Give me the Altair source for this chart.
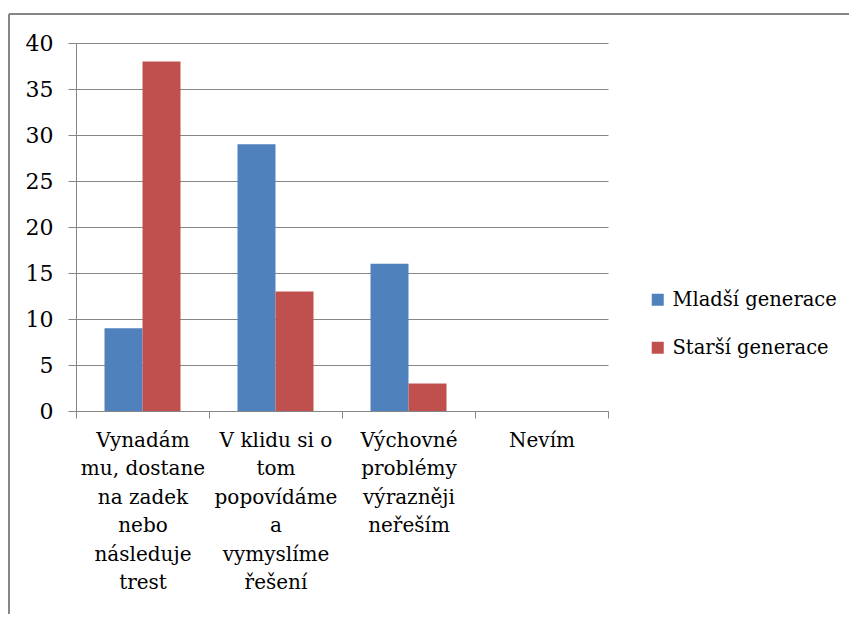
import altair as alt
import pandas as pd

categories = [
    "Vynadám|mu, dostane|na zadek|nebo|následuje|trest",
    "V klidu si o|tom|popovídáme|a|vymyslíme|řešení",
    "Výchovné|problémy|výrazněji|neřeším",
    "Nevím",
]
series = ["Mladší generace", "Starší generace"]
mladsi = [9, 29, 16, 0]
starsi = [38, 13, 3, 0]
colors = ["#4F81BD", "#C0504D"]
y_ticks = [0, 5, 10, 15, 20, 25, 30, 35, 40]

rows = []
for c, a, b in zip(categories, mladsi, starsi):
    rows.append({"kat": c, "serie": series[0], "hodnota": a})
    rows.append({"kat": c, "serie": series[1], "hodnota": b})
df = pd.DataFrame(rows)

FONT = "DejaVu Serif"
GRAY = "#868686"

bars = alt.Chart(df).mark_bar().encode(
    x=alt.X("kat:N", sort=categories, title=None,
            scale=alt.Scale(paddingInner=0, paddingOuter=0),
            axis=alt.Axis(labelExpr="split(datum.label, '|')", labelAngle=0,
                          tickBand="extent", tickSize=7, tickColor=GRAY,
                          domainColor=GRAY, labelFont=FONT, labelFontSize=20,
                          labelColor="black", labelLineHeight=28.5,
                          labelBaseline="top", labelPadding=12, grid=False,
                          labelLimit=0)),
    xOffset=alt.XOffset("serie:N", sort=series,
                        scale=alt.Scale(paddingOuter=0.75, paddingInner=0)),
    y=alt.Y("hodnota:Q", title=None,
            scale=alt.Scale(domain=[0, 40], nice=False),
            axis=alt.Axis(values=y_ticks, tickSize=8, tickColor=GRAY,
                          domainColor=GRAY, gridColor=GRAY, labelFont=FONT,
                          labelFontSize=22, labelColor="black", labelPadding=15)),
    color=alt.Color("serie:N", sort=series, title=None,
                    scale=alt.Scale(domain=series, range=colors),
                    legend=alt.Legend(orient="none", legendX=572, legendY=247,
                                      symbolType="square", symbolSize=144,
                                      symbolStrokeWidth=0, labelFont=FONT,
                                      labelFontSize=19.5, labelColor="black",
                                      labelOffset=5, rowPadding=27,
                                      labelLimit=0)),
)

border_top = alt.Chart(df).mark_rule(color=GRAY, strokeWidth=1.5).encode(
    x=alt.value(-67), x2=alt.value(800), y=alt.value(-29)
)
border_left = alt.Chart(df).mark_rule(color=GRAY, strokeWidth=1.5).encode(
    x=alt.value(-67), y=alt.value(-29), y2=alt.value(700)
)

chart = alt.layer(bars, border_top, border_left).properties(
    width=532, height=368,
    autosize=alt.AutoSizeParams(type="none"),
    padding={"left": 68, "top": 35, "right": 241, "bottom": 203},
).configure_view(stroke=None).configure_axis(gridWidth=1, domainWidth=1, tickWidth=1)

chart.save("out.html", embed_options={"renderer": "svg", "actions": False})
